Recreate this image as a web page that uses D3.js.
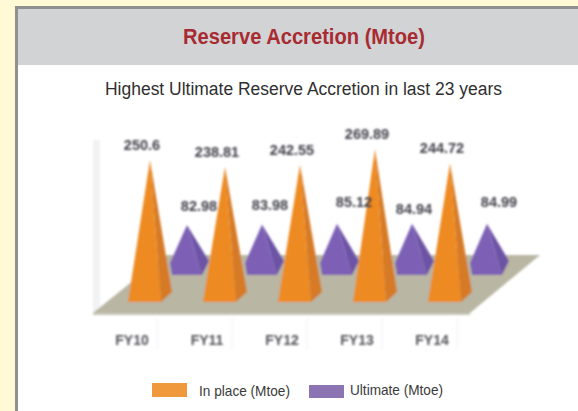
<!DOCTYPE html>
<html><head><meta charset="utf-8">
<script src="https://cdn.jsdelivr.net/npm/d3@7/dist/d3.min.js"></script>
<style>html,body{margin:0;padding:0;background:#fff}svg{display:block}</style></head>
<body><script>
const categories = ["FY10","FY11","FY12","FY13","FY14"];
const inPlace = [250.6, 238.81, 242.55, 269.89, 244.72];
const ultimate = [82.98, 83.98, 85.12, 84.94, 84.99];
const inPlaceLabels = ["250.6","238.81","242.55","269.89","244.72"];
const ultimateLabels = ["82.98","83.98","85.12","84.94","84.99"];
const ultimateLabelDx = [12,8,17,2,12];
const ultimateLabelDy = [-17,-17,-20,-13,-20];

const W=578,H=411;
const svg=d3.select("body").append("svg").attr("width",W).attr("height",H);
const sans="'Liberation Sans',Arial,sans-serif";
const defs=svg.append("defs");
defs.append("filter").attr("id","soft").attr("x","-5%").attr("y","-5%").attr("width","110%").attr("height","110%")
  .append("feGaussianBlur").attr("stdDeviation",1);
defs.append("filter").attr("id","softText").attr("x","-5%").attr("y","-5%").attr("width","110%").attr("height","110%")
  .append("feGaussianBlur").attr("stdDeviation",1);

// frame
svg.append("rect").attr("width",W).attr("height",H).attr("fill","#fff9d6");
svg.append("rect").attr("x",15).attr("y",6).attr("width",W-15).attr("height",H-6).attr("fill","#8f918e");
svg.append("rect").attr("x",18).attr("y",9).attr("width",W-18).attr("height",H-9).attr("fill","#fff");
svg.append("rect").attr("x",18).attr("y",9).attr("width",W-18).attr("height",56).attr("fill","#d1d3d4");

svg.append("text").attr("x",304).attr("y",44).attr("text-anchor","middle")
  .attr("font-family",sans).attr("font-weight","bold").attr("font-size",22).attr("fill","#a92b32")
  .attr("textLength",242).attr("lengthAdjust","spacingAndGlyphs").text("Reserve Accretion (Mtoe)");
svg.append("text").attr("x",303.5).attr("y",95).attr("text-anchor","middle")
  .attr("font-family",sans).attr("font-size",18).attr("fill","#2f2f2f")
  .attr("textLength",397).attr("lengthAdjust","spacingAndGlyphs").text("Highest Ultimate Reserve Accretion in last 23 years");

// scales
const xFront=d3.scalePoint().domain(categories).range([150,450]);
const xBack=d3.scalePoint().domain(categories).range([187,487]);
const h=d3.scaleLinear().domain([0,300]).range([0,170]);
const frontY=302, backY=275;

const plot=svg.append("g").attr("filter","url(#soft)");
plot.append("rect").attr("x",93).attr("y",140).attr("width",7).attr("height",173).attr("fill","#f1f2f4");
plot.selectAll("line.sep").data(categories).join("line").attr("class","sep")
  .attr("x1",d=>xFront(d)+7).attr("x2",d=>xFront(d)+7).attr("y1",318).attr("y2",350)
  .attr("stroke","#eef0f3").attr("stroke-width",1);
plot.append("path").attr("d","M93,313 L470,313 L540,255 L165,255 Z").attr("fill","#b9b6a3");
plot.append("path").attr("d","M93,313 L470,313 L470,315 L93,315 Z").attr("fill","#c9c7b8");

function pyramid(g,cx,base,height,s,cols){
  const ay=base-height, xl=cx+s.left, xm=cx+s.mid, xr=cx+s.right;
  g.append("path").attr("d",`M${xm},${base} L${xr},${base-s.rise} L${cx},${ay} Z`).attr("fill",cols.side);
  const corner = s.corner ? `L${cx+s.corner.x},${base-s.corner.rise} ` : "";
  g.append("path").attr("d",`M${xl},${base} L${xm},${base} L${cx},${ay} ${corner}Z`).attr("fill",cols.front);
}
const purple={front:"#7d60b5",side:"#6d52a6"};
const orange={front:"#ee8a22",side:"#d67a26"};
const backShape={left:-15,mid:15,right:22,rise:14,corner:{x:-17,rise:12}};
const frontShape={left:-22,mid:11,right:22,rise:10};
categories.forEach((c,i)=>{ pyramid(plot,xBack(c),backY,h(ultimate[i])+3,backShape,purple); });
categories.forEach((c,i)=>{ pyramid(plot,xFront(c),frontY,h(inPlace[i]),frontShape,orange); });

const lab=svg.append("g").attr("filter","url(#softText)")
  .attr("font-family",sans).attr("font-weight","bold").attr("text-anchor","middle");
lab.selectAll("text.a").data(categories).join("text").attr("class","a")
  .attr("x",d=>xFront(d)-8).attr("y",(d,i)=>frontY-h(inPlace[i])-10)
  .attr("font-size",14.5).attr("fill","#3f3f4a").text((d,i)=>inPlaceLabels[i]);
lab.selectAll("text.b").data(categories).join("text").attr("class","b")
  .attr("x",(d,i)=>xBack(d)+ultimateLabelDx[i]).attr("y",(d,i)=>backY-h(ultimate[i])+ultimateLabelDy[i])
  .attr("font-size",14.5).attr("fill","#3f3f4a").text((d,i)=>ultimateLabels[i]);
lab.selectAll("text.c").data(categories).join("text").attr("class","c")
  .attr("x",d=>xFront(d)-18).attr("y",345)
  .attr("font-size",14).attr("fill","#55555c").text(d=>d);

const legend=[{n:"In place (Mtoe)",c:"#f0983c",x:152,y:383,h:14,tx:199,ty:396,w:91},
              {n:"Ultimate (Mtoe)",c:"#8c74b2",x:309,y:385,h:13,tx:350,ty:395,w:93}];
const lg=svg.append("g");
lg.selectAll("rect").data(legend).join("rect").attr("x",d=>d.x).attr("y",d=>d.y).attr("width",35).attr("height",d=>d.h).attr("fill",d=>d.c);
lg.selectAll("text").data(legend).join("text").attr("x",d=>d.tx).attr("y",d=>d.ty)
  .attr("font-family",sans).attr("font-size",15).attr("fill","#3a3a3a")
  .attr("textLength",d=>d.w).attr("lengthAdjust","spacingAndGlyphs").text(d=>d.n);
</script></body></html>
